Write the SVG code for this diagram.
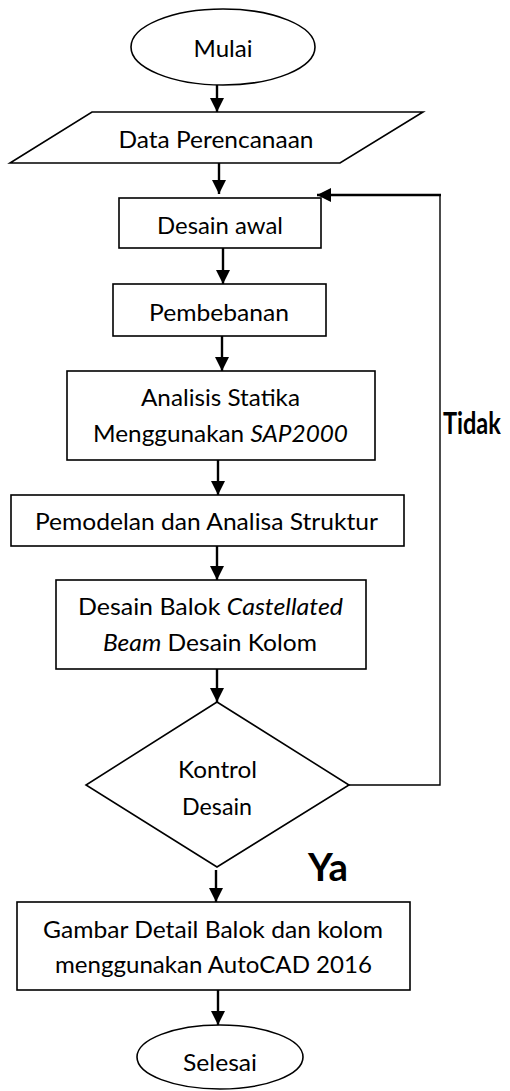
<svg xmlns="http://www.w3.org/2000/svg" width="510" height="1091" viewBox="0 0 510 1091">
<defs>
<style>
.n{fill:#fff;stroke:#000;stroke-width:1.6}
.t{font-family:Lato,"Open Sans","Liberation Sans",sans-serif;font-size:24px;fill:#000;text-anchor:middle}
.i{font-style:italic}
.a{stroke:#000;stroke-width:2.4;fill:none;marker-end:url(#ah)}
.l{stroke:#000;stroke-width:1.4;fill:none}
.b{font-family:Lato,"Liberation Sans",sans-serif;font-weight:bold;fill:#000}
</style>
<marker id="ah" markerUnits="userSpaceOnUse" markerWidth="16" markerHeight="14" refX="14" refY="7" orient="auto">
<path d="M0,0 L14,7 L0,14 z" fill="#000"/>
</marker>
</defs>
<rect width="510" height="1091" fill="#fff"/>
<g id="connectors">
<line class="a" x1="217" y1="85" x2="217" y2="112"/>
<line class="a" x1="219" y1="163" x2="219" y2="194"/>
<line class="a" x1="223" y1="248" x2="223" y2="284"/>
<line class="a" x1="222" y1="336" x2="222" y2="371"/>
<line class="a" x1="218" y1="460" x2="218" y2="495"/>
<line class="a" x1="217" y1="546" x2="217" y2="580"/>
<line class="a" x1="217" y1="669" x2="217" y2="702"/>
<line class="a" x1="216" y1="870" x2="216" y2="902"/>
<line class="a" x1="218" y1="990" x2="218" y2="1025"/>
<polyline class="l" points="349,785 440,785 440,195"/>
<line class="a" x1="441" y1="195" x2="317" y2="195"/>
</g>
<g id="mulai">
<ellipse class="n" cx="223" cy="47" rx="92" ry="38"/>
<text class="t" x="223" y="57" textLength="59" lengthAdjust="spacingAndGlyphs">Mulai</text>
</g>
<g id="data">
<polygon class="n" points="92,112 423,112 340,163 10,163"/>
<text class="t" x="216" y="148" textLength="195" lengthAdjust="spacingAndGlyphs">Data Perencanaan</text>
</g>
<g id="desain-awal">
<rect class="n" x="119" y="198" width="202" height="50"/>
<text class="t" x="220" y="234" textLength="126" lengthAdjust="spacingAndGlyphs">Desain awal</text>
</g>
<g id="pembebanan">
<rect class="n" x="113" y="284" width="213" height="52"/>
<text class="t" x="219" y="321" textLength="140" lengthAdjust="spacingAndGlyphs">Pembebanan</text>
</g>
<g id="analisis">
<rect class="n" x="67" y="371" width="308" height="89"/>
<text class="t" x="220.5" y="406" textLength="159" lengthAdjust="spacingAndGlyphs">Analisis Statika</text>
<text class="t" x="220.5" y="442" textLength="255" lengthAdjust="spacingAndGlyphs">Menggunakan <tspan class="i">SAP2000</tspan></text>
</g>
<g id="pemodelan">
<rect class="n" x="11" y="495" width="393" height="51"/>
<text class="t" x="206.5" y="530" textLength="343" lengthAdjust="spacingAndGlyphs">Pemodelan dan Analisa Struktur</text>
</g>
<g id="desain-balok">
<rect class="n" x="56" y="580" width="310" height="89"/>
<text class="t" x="210.5" y="615" textLength="265" lengthAdjust="spacingAndGlyphs">Desain Balok <tspan class="i">Castellated</tspan></text>
<text class="t" x="210" y="651" textLength="214" lengthAdjust="spacingAndGlyphs"><tspan class="i">Beam</tspan> Desain Kolom</text>
</g>
<g id="kontrol">
<polygon class="n" points="217,702 349,785 217,867 86,785"/>
<text class="t" x="217.5" y="778" textLength="79" lengthAdjust="spacingAndGlyphs">Kontrol</text>
<text class="t" x="217" y="815" textLength="70" lengthAdjust="spacingAndGlyphs">Desain</text>
</g>
<g id="gambar">
<rect class="n" x="17" y="902" width="393" height="88"/>
<text class="t" x="213" y="938" textLength="340" lengthAdjust="spacingAndGlyphs">Gambar Detail Balok dan kolom</text>
<text class="t" x="213.5" y="973" textLength="317" lengthAdjust="spacingAndGlyphs">menggunakan AutoCAD 2016</text>
</g>
<g id="selesai">
<ellipse class="n" cx="220" cy="1057" rx="83" ry="32"/>
<text class="t" x="220" y="1071" textLength="74" lengthAdjust="spacingAndGlyphs">Selesai</text>
</g>
<g id="labels">
<text class="b" transform="translate(443,434) scale(0.76,1)" x="0" y="0" font-size="31">Tidak</text>
<text class="b" x="308" y="881" font-size="38" textLength="40" lengthAdjust="spacingAndGlyphs">Ya</text>
</g>
</svg>
